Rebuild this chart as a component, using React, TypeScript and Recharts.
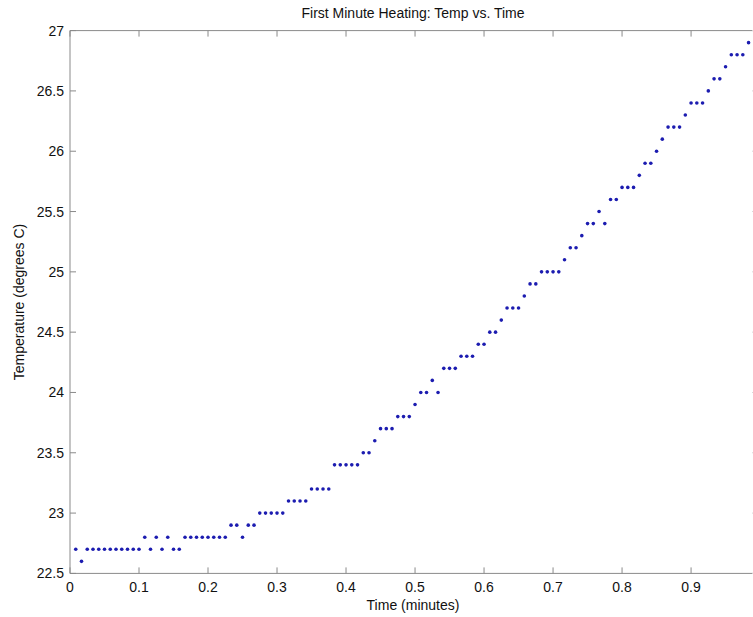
import React from 'react';
import { ScatterChart, Scatter, XAxis, YAxis } from 'recharts';

// sampling: one reading every half second (1/120 min), first reading at sample 1
const SAMPLE_STEP = 1 / 120;

// temperature readings (degrees C)
const TEMPS = [
  22.7, 22.6, 22.7, 22.7, 22.7, 22.7, 22.7, 22.7, 22.7, 22.7,
  22.7, 22.7, 22.8, 22.7, 22.8, 22.7, 22.8, 22.7, 22.7, 22.8,
  22.8, 22.8, 22.8, 22.8, 22.8, 22.8, 22.8, 22.9, 22.9, 22.8,
  22.9, 22.9, 23.0, 23.0, 23.0, 23.0, 23.0, 23.1, 23.1, 23.1,
  23.1, 23.2, 23.2, 23.2, 23.2, 23.4, 23.4, 23.4, 23.4, 23.4,
  23.5, 23.5, 23.6, 23.7, 23.7, 23.7, 23.8, 23.8, 23.8, 23.9,
  24.0, 24.0, 24.1, 24.0, 24.2, 24.2, 24.2, 24.3, 24.3, 24.3,
  24.4, 24.4, 24.5, 24.5, 24.6, 24.7, 24.7, 24.7, 24.8, 24.9,
  24.9, 25.0, 25.0, 25.0, 25.0, 25.1, 25.2, 25.2, 25.3, 25.4,
  25.4, 25.5, 25.4, 25.6, 25.6, 25.7, 25.7, 25.7, 25.8, 25.9,
  25.9, 26.0, 26.1, 26.2, 26.2, 26.2, 26.3, 26.4, 26.4, 26.4,
  26.5, 26.6, 26.6, 26.7, 26.8, 26.8, 26.8, 26.9,
];

const X_TICKS = [0, 0.1, 0.2, 0.3, 0.4, 0.5, 0.6, 0.7, 0.8, 0.9];
const Y_TICKS = [22.5, 23, 23.5, 24, 24.5, 25, 25.5, 26, 26.5, 27];
const X_MAX = 0.997;

const data = TEMPS.map((temp, i) => ({ t: (i + 1) * SAMPLE_STEP, temp }));

const FONT = '"Liberation Sans", Arial, sans-serif';
const AXIS_COLOR = '#8a8a8a';
const TICK_LEN = 6;

const BottomTick = ({ x, y, payload }: any) => (
  <g>
    <line x1={x} y1={y} x2={x} y2={y - TICK_LEN} stroke={AXIS_COLOR} />
    <text x={x} y={y + 19} textAnchor="middle" fontSize={14} fontFamily={FONT} fill="#111">
      {String(payload.value)}
    </text>
  </g>
);

const LeftTick = ({ x, y, payload }: any) => (
  <g>
    <line x1={x} y1={y} x2={x + TICK_LEN} y2={y} stroke={AXIS_COLOR} />
    <text x={x - 6} y={y + 5} textAnchor="end" fontSize={14} fontFamily={FONT} fill="#111">
      {String(payload.value)}
    </text>
  </g>
);

const TopTick = ({ x, y }: any) => (
  <line x1={x} y1={y} x2={x} y2={y + TICK_LEN} stroke={AXIS_COLOR} />
);

const RightTick = ({ x, y }: any) => (
  <line x1={x} y1={y} x2={x - TICK_LEN} y2={y} stroke="#d8d8d8" />
);

const Dot = ({ cx, cy }: any) => <circle cx={cx} cy={cy} r={1.8} fill="#1c1cb0" />;

export default function App() {
  return (
    <div
      style={{
        position: 'absolute',
        left: 0,
        top: 0,
        width: 753,
        height: 617,
        overflow: 'hidden',
        background: '#fff',
        fontFamily: FONT,
        color: '#111',
      }}
    >
      <ScatterChart
        width={790}
        height={617}
        margin={{ top: 29.6, right: 31, bottom: 42.6, left: 69 }}
      >
        <XAxis
          xAxisId="bottom"
          type="number"
          dataKey="t"
          domain={[0, X_MAX]}
          ticks={X_TICKS}
          allowDataOverflow
          height={1}
          tickSize={0}
          tickMargin={0}
          tickLine={false}
          axisLine={{ stroke: AXIS_COLOR }}
          tick={<BottomTick />}
          interval={0}
        />
        <XAxis
          xAxisId="top"
          orientation="top"
          type="number"
          dataKey="t"
          domain={[0, X_MAX]}
          ticks={X_TICKS}
          allowDataOverflow
          height={1}
          tickSize={0}
          tickMargin={0}
          tickLine={false}
          axisLine={{ stroke: AXIS_COLOR }}
          tick={<TopTick />}
          interval={0}
        />
        <YAxis
          yAxisId="left"
          type="number"
          dataKey="temp"
          domain={[22.5, 27]}
          ticks={Y_TICKS}
          allowDataOverflow
          width={1}
          tickSize={0}
          tickMargin={0}
          tickLine={false}
          axisLine={{ stroke: AXIS_COLOR }}
          tick={<LeftTick />}
          interval={0}
        />
        <YAxis
          yAxisId="right"
          orientation="right"
          type="number"
          dataKey="temp"
          domain={[22.5, 27]}
          ticks={Y_TICKS}
          allowDataOverflow
          width={1}
          tickSize={0}
          tickMargin={0}
          tickLine={false}
          axisLine={{ stroke: AXIS_COLOR }}
          tick={<RightTick />}
          interval={0}
        />
        <Scatter
          data={data}
          xAxisId="bottom"
          yAxisId="left"
          shape={<Dot />}
          isAnimationActive={false}
        />
        <Scatter
          data={data}
          xAxisId="top"
          yAxisId="right"
          shape={() => <g />}
          isAnimationActive={false}
        />
      </ScatterChart>

      {/* title */}
      <div
        style={{
          position: 'absolute',
          left: 70,
          width: 686,
          top: 5,
          textAlign: 'center',
          fontSize: 14,
          lineHeight: '16px',
        }}
      >
        First Minute Heating: Temp vs. Time
      </div>

      {/* x label */}
      <div
        style={{
          position: 'absolute',
          left: 70,
          width: 686,
          top: 597,
          textAlign: 'center',
          fontSize: 14,
          lineHeight: '16px',
        }}
      >
        Time (minutes)
      </div>

      {/* y label */}
      <div
        style={{
          position: 'absolute',
          left: 19 - 150,
          top: 302 - 8,
          width: 300,
          textAlign: 'center',
          fontSize: 14,
          lineHeight: '16px',
          transform: 'rotate(-90deg)',
        }}
      >
        Temperature (degrees C)
      </div>
    </div>
  );
}
